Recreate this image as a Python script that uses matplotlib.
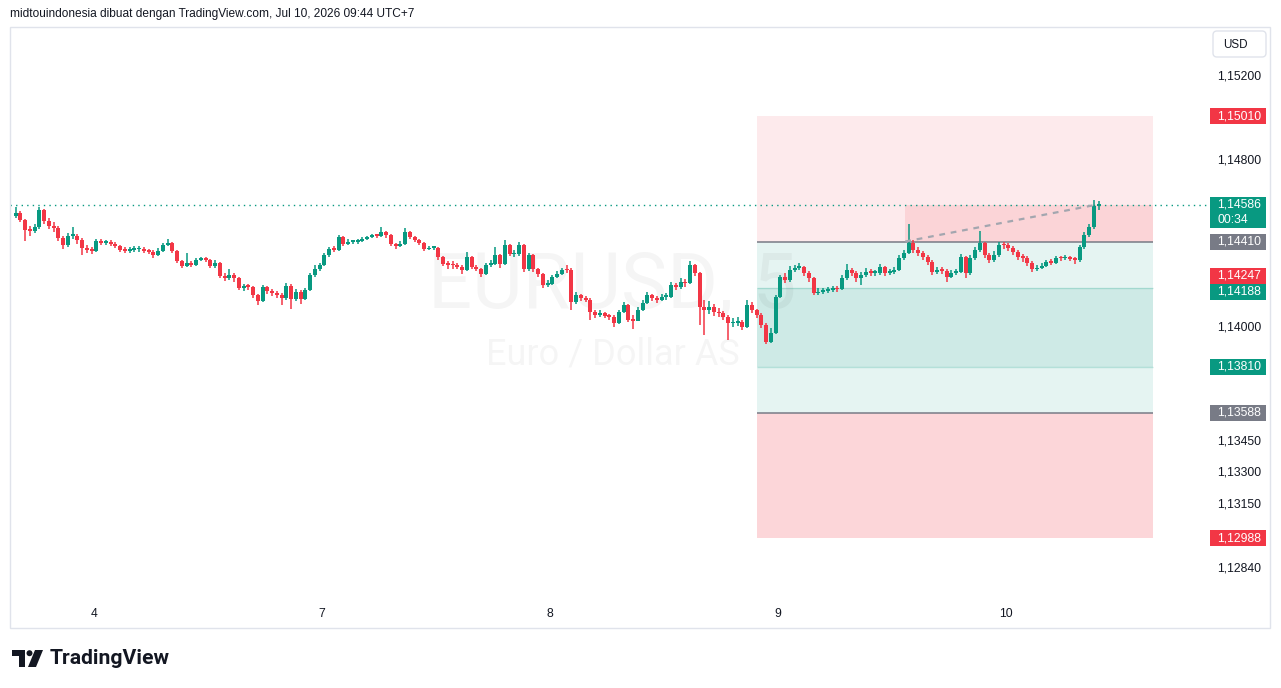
import numpy as np
import matplotlib
matplotlib.use("Agg")
import matplotlib.pyplot as plt
from matplotlib.patches import Rectangle, FancyBboxPatch, Circle, Polygon
from matplotlib.transforms import IdentityTransform

plt.rcParams['font.family'] = ['Liberation Sans', 'DejaVu Sans']

# ---------------- data ----------------
bar_hours = 0.5            # 30-minute candles
first_bar_time = -104.5    # trading hours relative to Jul 10 00:00 (UTC+7)
first_open = 1.14533

close = [
    1.14547, 1.14514, 1.14466, 1.14461, 1.14480, 1.14562, 1.14509, 1.14485, 1.14475, 1.14427,
    1.14394, 1.14437, 1.14437, 1.14418, 1.14379, 1.14370, 1.14365, 1.14413, 1.14403, 1.14403,
    1.14400, 1.14389, 1.14370, 1.14365, 1.14370, 1.14374, 1.14376, 1.14365, 1.14360, 1.14346,
    1.14365, 1.14394, 1.14403, 1.14365, 1.14317, 1.14293, 1.14307, 1.14298, 1.14322, 1.14326,
    1.14322, 1.14293, 1.14307, 1.14245, 1.14235, 1.14250, 1.14235, 1.14187, 1.14197, 1.14192,
    1.14154, 1.14125, 1.14192, 1.14173, 1.14163, 1.14154, 1.14139, 1.14197, 1.14134, 1.14168,
    1.14134, 1.14178, 1.14250, 1.14278, 1.14298, 1.14346, 1.14374, 1.14370, 1.14432, 1.14398,
    1.14408, 1.14410, 1.14413, 1.14422, 1.14432, 1.14442, 1.14437, 1.14456, 1.14442, 1.14398,
    1.14389, 1.14398, 1.14456, 1.14432, 1.14418, 1.14403, 1.14374, 1.14379, 1.14381, 1.14336,
    1.14302, 1.14298, 1.14296, 1.14288, 1.14274, 1.14336, 1.14288, 1.14278, 1.14254, 1.14298,
    1.14302, 1.14346, 1.14302, 1.14394, 1.14350, 1.14352, 1.14394, 1.14278, 1.14346, 1.14278,
    1.14254, 1.14202, 1.14206, 1.14240, 1.14254, 1.14274, 1.14272, 1.14120, 1.14154, 1.14139,
    1.14130, 1.14072, 1.14058, 1.14067, 1.14053, 1.14048, 1.14019, 1.14072, 1.14106, 1.14034,
    1.14031, 1.14082, 1.14115, 1.14154, 1.14139, 1.14130, 1.14144, 1.14146, 1.14202, 1.14192,
    1.14216, 1.14211, 1.14298, 1.14259, 1.14096, 1.14082, 1.14096, 1.14072, 1.14067, 1.14048,
    1.14019, 1.14021, 1.14024, 1.14000, 1.14106, 1.14082, 1.14058, 1.14010, 1.13928, 1.13971,
    1.14144, 1.14240, 1.14226, 1.14274, 1.14283, 1.14288, 1.14259, 1.14235, 1.14163, 1.14168,
    1.14173, 1.14178, 1.14182, 1.14180, 1.14235, 1.14274, 1.14259, 1.14235, 1.14250, 1.14264,
    1.14259, 1.14261, 1.14288, 1.14259, 1.14264, 1.14274, 1.14331, 1.14355, 1.14403, 1.14370,
    1.14355, 1.14336, 1.14312, 1.14264, 1.14274, 1.14269, 1.14240, 1.14259, 1.14264, 1.14336,
    1.14259, 1.14331, 1.14370, 1.14403, 1.14346, 1.14322, 1.14346, 1.14394, 1.14392, 1.14379,
    1.14360, 1.14336, 1.14331, 1.14307, 1.14278, 1.14283, 1.14293, 1.14312, 1.14307, 1.14331,
    1.14329, 1.14336, 1.14326, 1.14322, 1.14384, 1.14442, 1.14480, 1.14582, 1.14586,
]

high = [
    1.14576, 1.14557, 1.14518, 1.14485, 1.14494, 1.14576, 1.14566, 1.14523, 1.14504, 1.14485,
    1.14437, 1.14451, 1.14480, 1.14446, 1.14427, 1.14394, 1.14384, 1.14422, 1.14422, 1.14418,
    1.14418, 1.14408, 1.14394, 1.14384, 1.14384, 1.14389, 1.14389, 1.14384, 1.14374, 1.14370,
    1.14379, 1.14403, 1.14422, 1.14408, 1.14370, 1.14322, 1.14355, 1.14317, 1.14331, 1.14336,
    1.14336, 1.14326, 1.14322, 1.14312, 1.14259, 1.14278, 1.14259, 1.14240, 1.14206, 1.14206,
    1.14197, 1.14158, 1.14202, 1.14197, 1.14182, 1.14173, 1.14163, 1.14211, 1.14206, 1.14182,
    1.14178, 1.14187, 1.14259, 1.14298, 1.14307, 1.14355, 1.14384, 1.14389, 1.14442, 1.14437,
    1.14422, 1.14418, 1.14422, 1.14432, 1.14437, 1.14446, 1.14446, 1.14480, 1.14461, 1.14446,
    1.14403, 1.14413, 1.14475, 1.14461, 1.14437, 1.14422, 1.14408, 1.14389, 1.14389, 1.14384,
    1.14341, 1.14317, 1.14317, 1.14307, 1.14298, 1.14360, 1.14341, 1.14298, 1.14283, 1.14307,
    1.14322, 1.14384, 1.14350, 1.14418, 1.14398, 1.14370, 1.14408, 1.14398, 1.14355, 1.14350,
    1.14283, 1.14259, 1.14226, 1.14250, 1.14269, 1.14283, 1.14298, 1.14283, 1.14168, 1.14158,
    1.14149, 1.14139, 1.14082, 1.14082, 1.14072, 1.14062, 1.14058, 1.14082, 1.14120, 1.14110,
    1.14058, 1.14096, 1.14130, 1.14168, 1.14158, 1.14149, 1.14158, 1.14163, 1.14216, 1.14211,
    1.14235, 1.14230, 1.14317, 1.14302, 1.14264, 1.14130, 1.14125, 1.14110, 1.14091, 1.14077,
    1.14058, 1.14043, 1.14048, 1.14034, 1.14130, 1.14120, 1.14086, 1.14067, 1.14019, 1.13995,
    1.14154, 1.14250, 1.14259, 1.14293, 1.14298, 1.14307, 1.14293, 1.14269, 1.14240, 1.14187,
    1.14187, 1.14192, 1.14197, 1.14197, 1.14250, 1.14302, 1.14283, 1.14269, 1.14264, 1.14283,
    1.14278, 1.14274, 1.14302, 1.14293, 1.14278, 1.14288, 1.14346, 1.14370, 1.14494, 1.14418,
    1.14384, 1.14365, 1.14346, 1.14322, 1.14288, 1.14288, 1.14278, 1.14274, 1.14278, 1.14350,
    1.14341, 1.14346, 1.14384, 1.14461, 1.14408, 1.14355, 1.14365, 1.14408, 1.14408, 1.14403,
    1.14389, 1.14370, 1.14350, 1.14341, 1.14317, 1.14298, 1.14307, 1.14322, 1.14326, 1.14341,
    1.14341, 1.14346, 1.14341, 1.14336, 1.14394, 1.14456, 1.14494, 1.14610, 1.14605,
]

low = [
    1.14523, 1.14504, 1.14413, 1.14437, 1.14451, 1.14470, 1.14494, 1.14470, 1.14456, 1.14413,
    1.14374, 1.14384, 1.14422, 1.14398, 1.14346, 1.14355, 1.14350, 1.14360, 1.14394, 1.14394,
    1.14389, 1.14379, 1.14360, 1.14355, 1.14355, 1.14360, 1.14360, 1.14355, 1.14350, 1.14331,
    1.14341, 1.14360, 1.14389, 1.14355, 1.14307, 1.14283, 1.14288, 1.14288, 1.14293, 1.14317,
    1.14312, 1.14283, 1.14283, 1.14235, 1.14221, 1.14226, 1.14216, 1.14178, 1.14173, 1.14178,
    1.14139, 1.14106, 1.14120, 1.14158, 1.14149, 1.14139, 1.14106, 1.14130, 1.14086, 1.14125,
    1.14110, 1.14130, 1.14173, 1.14240, 1.14269, 1.14293, 1.14336, 1.14360, 1.14365, 1.14389,
    1.14394, 1.14398, 1.14398, 1.14408, 1.14418, 1.14427, 1.14427, 1.14432, 1.14427, 1.14389,
    1.14374, 1.14384, 1.14394, 1.14422, 1.14408, 1.14394, 1.14365, 1.14370, 1.14370, 1.14322,
    1.14293, 1.14278, 1.14278, 1.14278, 1.14254, 1.14269, 1.14278, 1.14269, 1.14240, 1.14250,
    1.14288, 1.14298, 1.14283, 1.14298, 1.14341, 1.14336, 1.14341, 1.14264, 1.14269, 1.14264,
    1.14240, 1.14187, 1.14192, 1.14202, 1.14235, 1.14250, 1.14259, 1.14082, 1.14110, 1.14125,
    1.14120, 1.14034, 1.14043, 1.14048, 1.14043, 1.14034, 1.14000, 1.14014, 1.14067, 1.14024,
    1.13990, 1.14029, 1.14077, 1.14110, 1.14125, 1.14115, 1.14125, 1.14130, 1.14139, 1.14178,
    1.14182, 1.14192, 1.14206, 1.14245, 1.14010, 1.13962, 1.14062, 1.14053, 1.14048, 1.14034,
    1.13938, 1.14000, 1.14005, 1.13986, 1.13995, 1.14067, 1.14043, 1.13995, 1.13918, 1.13923,
    1.13966, 1.14139, 1.14211, 1.14216, 1.14264, 1.14274, 1.14245, 1.14216, 1.14154, 1.14154,
    1.14158, 1.14163, 1.14168, 1.14168, 1.14178, 1.14226, 1.14245, 1.14216, 1.14202, 1.14240,
    1.14245, 1.14245, 1.14250, 1.14245, 1.14250, 1.14254, 1.14269, 1.14322, 1.14350, 1.14355,
    1.14341, 1.14322, 1.14298, 1.14250, 1.14254, 1.14254, 1.14216, 1.14235, 1.14250, 1.14259,
    1.14235, 1.14250, 1.14322, 1.14360, 1.14331, 1.14307, 1.14312, 1.14336, 1.14374, 1.14365,
    1.14346, 1.14322, 1.14312, 1.14293, 1.14264, 1.14269, 1.14278, 1.14288, 1.14298, 1.14302,
    1.14317, 1.14322, 1.14317, 1.14302, 1.14312, 1.14374, 1.14432, 1.14470, 1.14562,
]

day_tick_hours = [-96, -72, -48, -24, 0]
day_labels = ["4", "7", "8", "9", "10"]

price_ticks = [1.15200, 1.14800, 1.14000, 1.13450, 1.13300, 1.13150, 1.12840]

last_price = 1.14586
countdown = "00:34"

# long/short position drawing
pos_t0, pos_t1 = -26.2, 15.47
pnl_t0 = -10.6
stop_price = 1.15010
entry_price = 1.14410
mid_label_price = 1.14247
zone2_top = 1.14188
zone2_bottom = 1.13810
target_price = 1.13588
stop2_price = 1.12988

price_labels = [
    (stop_price, 'red'), (entry_price, 'gray'), (mid_label_price, 'red'),
    (zone2_top, 'green'), (zone2_bottom, 'green'), (target_price, 'gray'),
    (stop2_price, 'red'),
]

title_text = "midtouindonesia dibuat dengan TradingView.com, Jul 10, 2026 09:44 UTC+7"

# ---------------- style ----------------
GREEN = '#089981'
RED = '#f23645'
GRAY = '#787b86'
TXT = '#131722'
COLORS = {'red': RED, 'green': GREEN, 'gray': GRAY}

W, H = 1281, 688
fig = plt.figure(figsize=(W / 100, H / 100), dpi=100)
fig.patch.set_facecolor('white')

def fx(x):
    return x / W

def fy(y):
    return 1 - y / H

PX = 1 / 20850.0                     # price per pixel
Y_LO = 1.14 - 273 * PX
Y_HI = 1.14 + 300 * PX
X_LO, X_HI = -104.842, 21.263

ax = fig.add_axes([fx(10), fy(600), fx(1208) - fx(10), fy(27) - fy(600)])
ax.set_xlim(X_LO, X_HI)
ax.set_ylim(Y_LO, Y_HI)
ax.set_facecolor('none')
for s in ax.spines.values():
    s.set_visible(False)
ax.set_yticks([])
ax.set_xticks(day_tick_hours)
ax.set_xticklabels(day_labels)
ax.tick_params(axis='x', length=0, pad=6, labelsize=8.7, labelcolor=TXT)

# watermark
ax.text(0.503, 0.548, "EURUSD, 5", transform=ax.transAxes, ha='center', va='center',
        fontsize=56, family='Roboto', color=(0, 0, 0, 0.038), zorder=1)
ax.text(0.503, 0.428, "Euro / Dollar AS", transform=ax.transAxes, ha='center', va='center',
        fontsize=26, family='Roboto', color=(0, 0, 0, 0.038), zorder=1)

# position zones
w = pos_t1 - pos_t0
ax.add_patch(Rectangle((pos_t0, entry_price), w, stop_price - entry_price,
                       fc=(242/255, 54/255, 69/255, 0.10), lw=0, zorder=0.5))
ax.add_patch(Rectangle((pos_t0, target_price), w, entry_price - target_price,
                       fc=(8/255, 153/255, 129/255, 0.10), lw=0, zorder=0.5))
ax.add_patch(Rectangle((pos_t0, zone2_bottom), w, zone2_top - zone2_bottom,
                       fc=(8/255, 153/255, 129/255, 0.10), lw=0, zorder=0.6))
ax.add_patch(Rectangle((pos_t0, stop2_price), w, target_price - stop2_price,
                       fc=(242/255, 54/255, 69/255, 0.20), lw=0, zorder=0.5))
ax.add_patch(Rectangle((pnl_t0, entry_price), pos_t1 - pnl_t0, last_price - entry_price,
                       fc=(242/255, 54/255, 69/255, 0.12), lw=0, zorder=0.6))
ax.hlines([zone2_top, zone2_bottom], pos_t0, pos_t1, colors=[(8/255, 153/255, 129/255, 0.22)],
          lw=1, zorder=0.8)
ax.hlines([entry_price, target_price], pos_t0, pos_t1, colors=GRAY, lw=1.1, zorder=0.9)

# candles
close_a = np.array(close)
high_a = np.array(high)
low_a = np.array(low)
n = len(close_a)
t = first_bar_time + bar_hours * (np.arange(n) + 0.5)
open_a = np.r_[first_open, close_a[:-1]]
up = close_a >= open_a
cols = np.where(up, GREEN, RED)
hi = np.maximum(high_a, np.maximum(open_a, close_a))
lo = np.minimum(low_a, np.minimum(open_a, close_a))
ax.vlines(t, lo, hi, colors=cols, lw=1.1, zorder=4)
body_bottom = np.minimum(open_a, close_a)
body_h = np.maximum(np.abs(close_a - open_a), 1.5 * PX)
ax.bar(t, body_h, bottom=body_bottom, width=bar_hours * 0.82, color=cols, lw=0, zorder=5)

# dashed P&L line
ax.plot([pnl_t0, t[-1] - 0.3], [entry_price, last_price], color='#a3a6af', lw=1.6,
        ls=(0, (2.6, 2.6)), zorder=6)

# last price dotted line
ax.axhline(last_price, color=GREEN, lw=1, ls=(0, (1, 3)), zorder=3)

# ---------------- price axis ----------------
pax = fig.add_axes([fx(1208), fy(600), fx(1270) - fx(1208), fy(27) - fy(600)])
pax.set_xlim(0, 62)
pax.set_ylim(Y_LO, Y_HI)
pax.axis('off')

def fmt(v):
    return f"{v:.5f}".replace('.', ',')

for v in price_ticks:
    pax.text(9, v, fmt(v), ha='left', va='center', fontsize=8.7, color=TXT)

for v, c in price_labels:
    yc = v - (4 * PX if v == zone2_top else 0)
    pax.add_patch(Rectangle((2, yc - 8 * PX), 56, 16 * PX, fc=COLORS[c], lw=0, zorder=3))
    pax.text(9.5, yc, fmt(v), ha='left', va='center', fontsize=8.7, color='white', zorder=4)

pax.add_patch(Rectangle((2, last_price - 23 * PX), 56, 31 * PX, fc=GREEN, lw=0, zorder=3))
pax.text(9.5, last_price, fmt(last_price), ha='left', va='center', fontsize=8.7,
         color='white', zorder=4)
pax.text(9.5, last_price - 15 * PX, countdown, ha='left', va='center', fontsize=8.7,
         color='white', zorder=4)

# ---------------- figure decorations (pixel coords) ----------------
ID = IdentityTransform()

def P(x, y):
    return (x, H - y)

frame = Rectangle(P(10, 628), 1260, 601, fill=False, ec='#e0e3eb', lw=1, transform=ID)
fig.add_artist(frame)

usd = FancyBboxPatch(P(1213, 57), 53, 26, boxstyle='round,pad=0,rounding_size=4',
                     fc='white', ec='#e0e3eb', lw=1, transform=ID)
fig.add_artist(usd)
fig.text(fx(1223), fy(44.5), "USD", ha='left', va='center', fontsize=8.4, color=TXT)

fig.text(fx(10), fy(14), title_text, ha='left', va='center', fontsize=8.6, color=TXT)

# TradingView logo
logo_c = '#131722'
fig.add_artist(Polygon([P(12, 650), P(25, 650), P(25, 667), P(18.5, 667), P(18.5, 656), P(12, 656)],
                       closed=True, fc=logo_c, ec='none', transform=ID))
fig.add_artist(Circle(P(29.5, 653.2), 3.0, fc=logo_c, ec='none', transform=ID))
fig.add_artist(Polygon([P(35, 650), P(43, 650), P(36, 667), P(28, 667)],
                       closed=True, fc=logo_c, ec='none', transform=ID))
fig.text(fx(50), fy(658.5), "TradingView", ha='left', va='center', fontsize=15.2,
         fontweight='bold', family='Roboto', color=logo_c)

fig.savefig("out.png", dpi=100)
